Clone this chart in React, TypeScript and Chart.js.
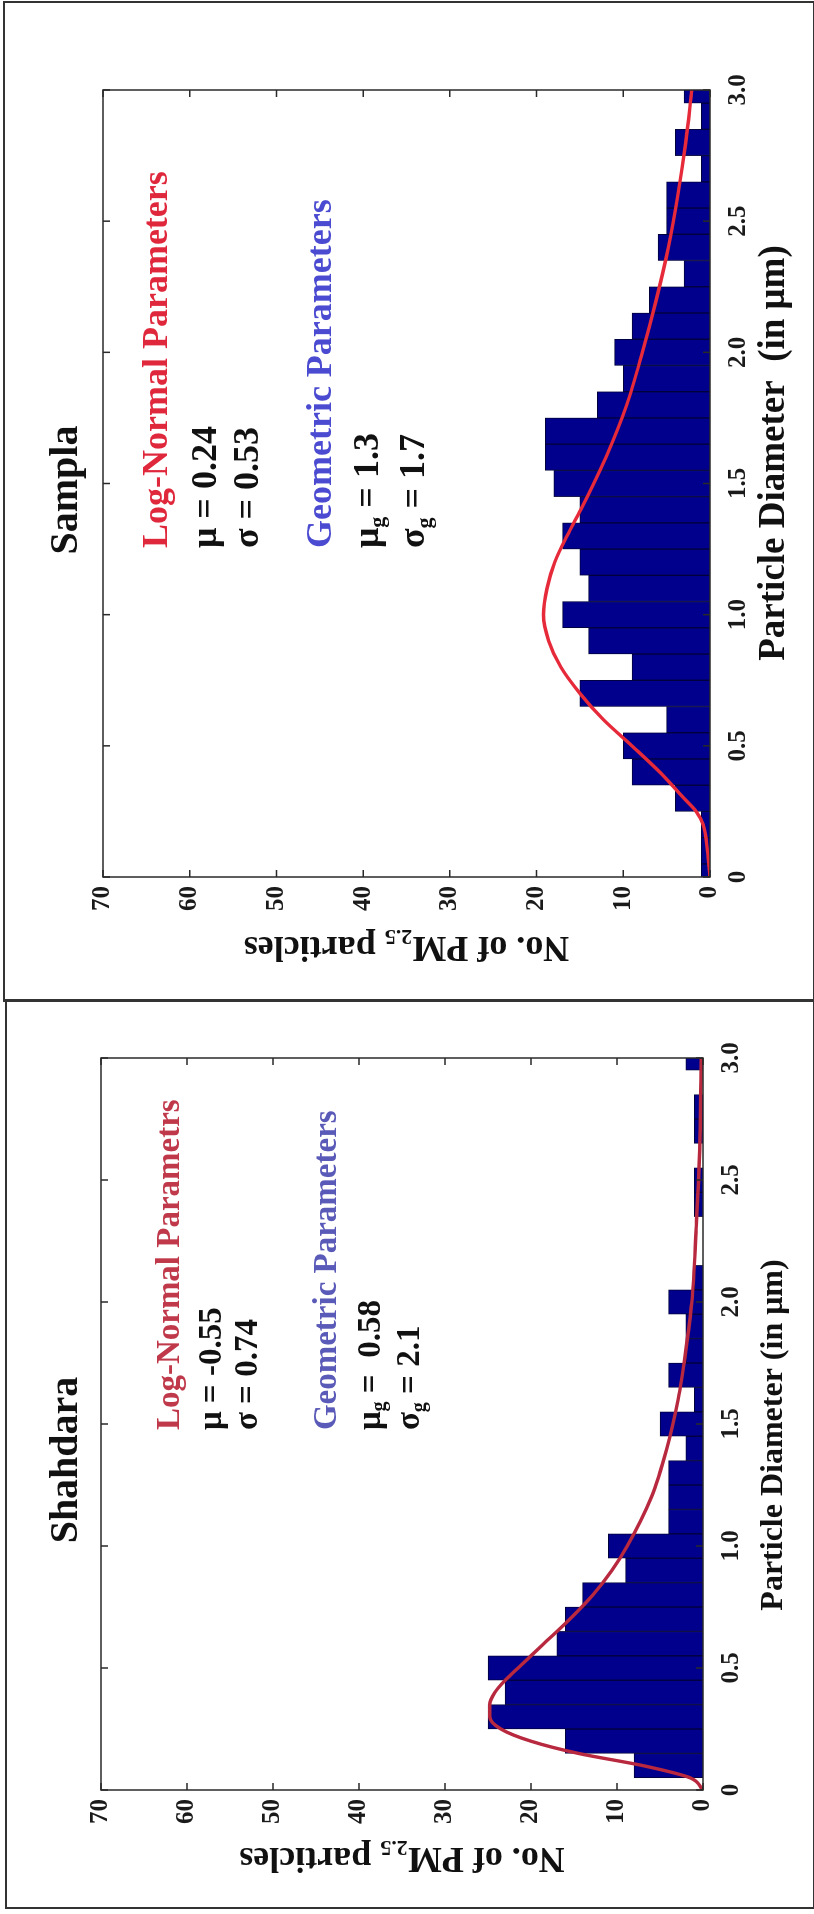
import React, { useEffect, useRef } from "react";
import { Chart, registerables } from "chart.js";

Chart.register(...registerables);

// ---------- data ----------
const binCenters = [0, 0.1, 0.2, 0.3, 0.4, 0.5, 0.6, 0.7, 0.8, 0.9, 1.0, 1.1, 1.2, 1.3, 1.4, 1.5, 1.6, 1.7, 1.8, 1.9, 2.0, 2.1, 2.2, 2.3, 2.4, 2.5, 2.6, 2.7, 2.8, 2.9, 3.0];
const samplaCounts = [1, 1, 1, 4, 9, 10, 5, 15, 9, 14, 17, 14, 15, 17, 15, 18, 19, 19, 13, 10, 11, 9, 7, 3, 6, 5, 5, 1, 4, 1, 3];
const shahdaraCounts = [0, 8, 16, 25, 23, 25, 17, 16, 14, 9, 11, 4, 4, 4, 2, 5, 1, 4, 2, 2, 4, 1, 0, 0, 1, 1, 0, 1, 1, 0, 2];

const samplaFitX = [0, 0.1, 0.2, 0.25, 0.3, 0.4, 0.5, 0.6, 0.7, 0.8, 0.9, 1.0, 1.1, 1.2, 1.3, 1.4, 1.5, 1.6, 1.8, 2.0, 2.2, 2.4, 2.6, 2.8, 3.0];
const samplaFitY = [0, 0.3, 0.8, 1.6, 3.0, 5.8, 9.0, 12.3, 15.0, 17.2, 18.6, 19.2, 18.8, 17.9, 16.5, 14.9, 13.4, 12.0, 9.6, 7.8, 6.2, 4.8, 3.7, 2.8, 2.1];
const shahdaraFitX = [0, 0.05, 0.1, 0.15, 0.2, 0.25, 0.3, 0.35, 0.4, 0.45, 0.5, 0.6, 0.7, 0.8, 0.9, 1.0, 1.2, 1.4, 1.6, 1.8, 2.0, 2.3, 2.6, 3.0];
const shahdaraFitY = [0, 1.5, 7, 14.5, 20, 23.5, 24.8, 24.8, 24.2, 23, 21.5, 18.5, 15.5, 12.8, 10.6, 8.8, 6, 4.2, 2.9, 2, 1.3, 0.8, 0.4, 0.2];

const diameterTicks = [0, 0.5, 1.0, 1.5, 2.0, 2.5, 3.0];
const diameterTickLabels = ["0", "0.5", "1.0", "1.5", "2.0", "2.5", "3.0"];
const countTicks = [0, 10, 20, 30, 40, 50, 60, 70];
const countTickLabels = ["0", "10", "20", "30", "40", "50", "60", "70"];

const FONT = '"Liberation Serif", "Times New Roman", serif';

type Part = { t: string; sub?: boolean };

function drawRich(ctx: CanvasRenderingContext2D, x: number, y: number, parts: Part[], size: number, color: string, align: string) {
  const main = `bold ${size}px ${FONT}`;
  const sub = `bold ${Math.round(size * 0.62)}px ${FONT}`;
  let total = 0;
  for (const p of parts) {
    ctx.font = p.sub ? sub : main;
    total += ctx.measureText(p.t).width;
  }
  let cx = align === "center" ? x - total / 2 : x;
  ctx.fillStyle = color;
  ctx.textBaseline = "middle";
  ctx.textAlign = "left";
  for (const p of parts) {
    ctx.font = p.sub ? sub : main;
    ctx.fillText(p.t, cx, p.sub ? y + size * 0.28 : y);
    cx += ctx.measureText(p.t).width;
  }
}

const panels = [
  {
    key: "sampla",
    top: 0,
    W: 1000,
    H: 814,
    area: { left: 123, right: 910, top: 103, bottom: 710 },
    counts: samplaCounts,
    fitX: samplaFitX,
    fitY: samplaFitY,
    curveColor: "#e62a3a",
    title: "Sampla",
    titleX: 510,
    titleY: 67,
    titleSize: 40,
    xTitle: "Particle Diameter  (in μm)",
    xTitleX: 547,
    xTitleY: 774,
    xTitleSize: 37,
    yTitleX: 54,
    yTitleSize: 36,
    paramSize: 36,
    paramStart: 1.254,
    params: [
      { parts: [{ t: "Log-Normal Parameters" }], color: "#e0283c", c: 63.7 },
      { parts: [{ t: "μ = 0.24" }], color: "#111", c: 58 },
      { parts: [{ t: "σ = 0.53" }], color: "#111", c: 53.2 },
      { parts: [{ t: "Geometric Parameters" }], color: "#4b4bd2", c: 44.8 },
      { parts: [{ t: "μ" }, { t: "g", sub: true }, { t: " = 1.3" }], color: "#111", c: 39.4 },
      { parts: [{ t: "σ" }, { t: "g", sub: true }, { t: " = 1.7" }], color: "#111", c: 34 },
    ],
  },
  {
    key: "shahdara",
    top: 1000,
    W: 911,
    H: 814,
    area: { left: 121, right: 853, top: 101, bottom: 703 },
    counts: shahdaraCounts,
    fitX: shahdaraFitX,
    fitY: shahdaraFitY,
    curveColor: "#b8283e",
    title: "Shahdara",
    titleX: 451,
    titleY: 67,
    titleSize: 40,
    xTitle: "Particle Diameter (in μm)",
    xTitleX: 476,
    xTitleY: 774,
    xTitleSize: 32,
    yTitleX: 54,
    yTitleSize: 36,
    paramSize: 33,
    paramStart: 1.475,
    params: [
      { parts: [{ t: "Log-Normal Parametrs" }], color: "#c0394a", c: 61.9 },
      { parts: [{ t: "μ = -0.55" }], color: "#111", c: 57 },
      { parts: [{ t: "σ = 0.74" }], color: "#111", c: 52.8 },
      { parts: [{ t: "Geometric Parameters" }], color: "#5a5ab8", c: 43.7 },
      { parts: [{ t: "μ" }, { t: "g", sub: true }, { t: " =  0.58" }], color: "#111", c: 38.6 },
      { parts: [{ t: "σ" }, { t: "g", sub: true }, { t: " = 2.1" }], color: "#111", c: 34 },
    ],
  },
];

function makeDecor(p: any) {
  return {
    id: "decor_" + p.key,
    afterDatasetsDraw(chart: any) {
      const ctx: CanvasRenderingContext2D = chart.ctx;
      const a = chart.chartArea;
      const xs = chart.scales.x;
      const ys = chart.scales.y;
      ctx.save();
      ctx.strokeStyle = "#2a2a2a";
      ctx.lineWidth = 1.5;
      ctx.strokeRect(a.left, a.top, a.right - a.left, a.bottom - a.top);
      const tl = 7;
      ctx.beginPath();
      for (const v of diameterTicks) {
        const px = xs.getPixelForValue(v);
        ctx.moveTo(px, a.bottom);
        ctx.lineTo(px, a.bottom - tl);
        ctx.moveTo(px, a.top);
        ctx.lineTo(px, a.top + tl);
      }
      for (const v of countTicks) {
        const py = ys.getPixelForValue(v);
        ctx.moveTo(a.left, py);
        ctx.lineTo(a.left + tl, py);
        ctx.moveTo(a.right, py);
        ctx.lineTo(a.right - tl, py);
      }
      ctx.stroke();
      ctx.restore();
    },
    afterDraw(chart: any) {
      const ctx: CanvasRenderingContext2D = chart.ctx;
      const a = chart.chartArea;
      const xs = chart.scales.x;
      const ys = chart.scales.y;
      ctx.save();
      drawRich(ctx, p.titleX, p.titleY, [{ t: p.title }], p.titleSize, "#111", "center");
      drawRich(ctx, p.xTitleX, p.xTitleY, [{ t: p.xTitle }], p.xTitleSize, "#111", "center");
      ctx.save();
      ctx.translate(p.yTitleX, (a.top + a.bottom) / 2);
      ctx.rotate(-Math.PI / 2);
      drawRich(ctx, 0, 0, [{ t: "No. of PM" }, { t: "2.5", sub: true }, { t: " particles" }], p.yTitleSize, "#111", "center");
      ctx.restore();
      const x0 = xs.getPixelForValue(p.paramStart);
      for (const line of p.params) {
        drawRich(ctx, x0, ys.getPixelForValue(line.c), line.parts, p.paramSize, line.color, "left");
      }
      ctx.restore();
    },
  };
}

function Panel({ p }: { p: any }) {
  const ref = useRef<HTMLCanvasElement | null>(null);
  useEffect(() => {
    if (!ref.current) return;
    const tickFont = { family: FONT, size: 25, weight: "bold" as const };
    const chart = new Chart(ref.current, {
      type: "bar",
      data: {
        datasets: [
          {
            type: "line",
            data: p.fitX.map((x: number, i: number) => ({ x, y: p.fitY[i] })),
            borderColor: p.curveColor,
            borderWidth: 3.4,
            pointRadius: 0,
            cubicInterpolationMode: "monotone",
            fill: false,
            order: 1,
            clip: 0,
          } as any,
          {
            type: "bar",
            data: binCenters.map((x, i) => ({ x, y: p.counts[i] })),
            backgroundColor: "#00008c",
            borderColor: "#00003c",
            borderWidth: 1,
            barPercentage: 1,
            categoryPercentage: 1,
            order: 2,
            clip: 0,
          } as any,
        ],
      },
      options: {
        responsive: false,
        animation: false,
        devicePixelRatio: 1,
        layout: { padding: { left: 0, top: p.area.top, right: p.W - p.area.right, bottom: 0 } },
        plugins: { legend: { display: false }, tooltip: { enabled: false }, title: { display: false } },
        scales: {
          x: {
            type: "linear",
            min: 0,
            max: 3,
            offset: false,
            grid: { display: false, drawTicks: false, offset: false },
            border: { display: false },
            ticks: {
              stepSize: 0.5,
              autoSkip: false,
              maxRotation: 0,
              padding: 14,
              color: "#1a1a1a",
              font: tickFont,
              callback: (v: any) => {
                const i = diameterTicks.findIndex((t) => Math.abs(t - Number(v)) < 1e-6);
                return i >= 0 ? diameterTickLabels[i] : "";
              },
            },
            afterFit: (s: any) => {
              s.height = p.H - p.area.bottom;
            },
          },
          y: {
            type: "linear",
            min: 0,
            max: 70,
            grid: { display: false, drawTicks: false },
            border: { display: false },
            ticks: {
              stepSize: 10,
              autoSkip: false,
              padding: 9,
              color: "#1a1a1a",
              font: tickFont,
              callback: (v: any) => {
                const i = countTicks.findIndex((t) => Math.abs(t - Number(v)) < 1e-6);
                return i >= 0 ? countTickLabels[i] : "";
              },
            },
            afterFit: (s: any) => {
              s.width = p.area.left;
            },
          },
        },
      } as any,
      plugins: [makeDecor(p)],
    });
    return () => chart.destroy();
  }, []);
  return (
    <div
      style={{
        position: "absolute",
        left: 0,
        top: p.top,
        width: p.W,
        height: p.H,
        transformOrigin: "0 0",
        transform: `translateY(${p.W}px) rotate(-90deg)`,
      }}
    >
      <canvas ref={ref} width={p.W} height={p.H} style={{ display: "block", width: p.W, height: p.H }} />
    </div>
  );
}

export default function App() {
  return (
    <div style={{ position: "absolute", left: 0, top: 0, width: 814, height: 1914, background: "#fff", overflow: "hidden" }}>
      {panels.map((p) => (
        <Panel key={p.key} p={p} />
      ))}
      <div style={{ position: "absolute", left: 3, top: 1, width: 808, height: 997, border: "2px solid #333" }} />
      <div style={{ position: "absolute", left: 5, top: 999, width: 806, height: 906, border: "2px solid #333" }} />
    </div>
  );
}
